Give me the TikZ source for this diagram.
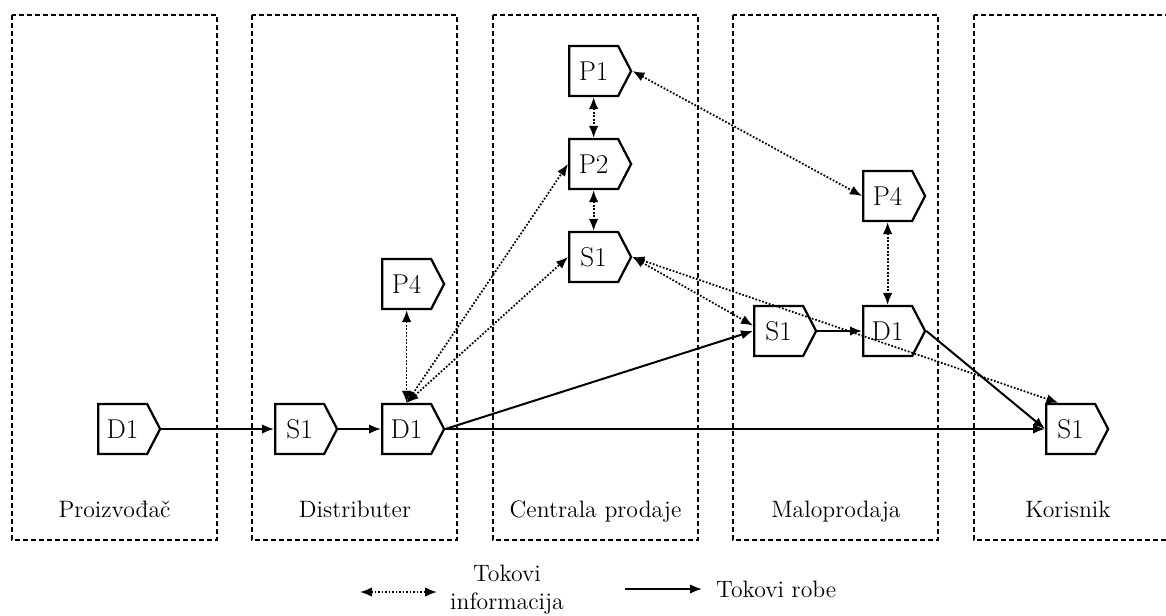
\documentclass[tikz,border=0pt]{standalone}
\usepackage{fontspec}
\usetikzlibrary{shapes.symbols,arrows.meta}

\newcommand*{\lanetop}{15}
\newcommand*{\lanebot}{540}
\newcommand*{\lanew}{205}

\begin{document}
\begin{tikzpicture}
[
	x=0.2mm, y=-0.2mm,
	font=\fontsize{13.5}{16}\selectfont,
	lane/.style={line width=0.45mm, dash pattern=on 1mm off 0.6mm},
	blk/.style={signal, signal to=east, signal pointer angle=125, draw, line width=0.45mm,
		minimum width=12.4mm, minimum height=10mm, inner sep=0pt, anchor=west,
		font=\fontsize{15.5}{18}\selectfont},
	goods/.style={line width=0.4mm, -{Latex[length=2.4mm,width=1.9mm]}},
	info/.style={line width=0.35mm, dash pattern=on 0.35mm off 0.35mm,
		{Latex[length=2.4mm,width=1.9mm]}-{Latex[length=2.4mm,width=1.9mm]}}
]

	\clip (0,0) rectangle (1166,615);

	% lanes
	\foreach \lx/\lbl/\cx [count=\i] in {12/Proizvođač/114.5, 252/Distributer/355,
		493/Centrala prodaje/595.5, 733/Maloprodaja/836, 974/Korisnik/1068}
	{
		\draw[lane] (\lx,\lanetop) rectangle ({\lx+\lanew},\lanebot);
		\node[anchor=base] (lane\i) at (\cx,517) {\lbl};
	}

	% proizvodac, distributer
	\node[blk] (pD1) at (97,429) {D1};
	\node[blk] (dS1) at (274,429) {S1};
	\node[blk] (dD1) at (381,429) {D1};
	\node[blk] (dP4) at (381,284) {P4};

	% centrala prodaje
	\node[blk] (cP1) at (568,71) {P1};
	\node[blk] (cP2) at (568,164) {P2};
	\node[blk] (cS1) at (568,257) {S1};

	% maloprodaja, korisnik
	\node[blk] (mP4) at (862,196) {P4};
	\node[blk] (mS1) at (753,331) {S1};
	\node[blk] (mD1) at (862,331) {D1};
	\node[blk] (kS1) at (1045,429) {S1};

	% goods
	\draw[goods] (pD1.east) -- (dS1.west);
	\draw[goods] (dS1.east) -- (dD1.west);
	\draw[goods] (dD1.east) -- (kS1.west);
	\draw[goods] (dD1.east) -- (mS1.west);
	\draw[goods] (mS1.east) -- (mD1.west);
	\draw[goods] (mD1.east) -- (kS1.west);

	% information
	\draw[info] (dP4.south) -- (dD1.north);
	\draw[info] (dD1.north) -- (cP2.west);
	\draw[info] (dD1.north) -- (cS1.west);
	\draw[info] (cP1.south) -- (cP2.north);
	\draw[info] (cP2.south) -- (cS1.north);
	\draw[info] (cP1.east) -- (mP4.west);
	\draw[info] (mP4.south) -- (mD1.north);
	\draw[info] (cS1.east) -- (mS1.168);
	\draw[info] (cS1.east) -- (kS1.115);

	% legend
	\coordinate (infoA) at (360,592);
	\coordinate (infoB) at (437,592);
	\draw[info] (infoA) -- (infoB);
	\node[align=center] (infoLbl) at (507,590) {Tokovi\\informacija};
	\coordinate (goodsA) at (625,589);
	\coordinate (goodsB) at (702,589);
	\draw[goods] (goodsA) -- (goodsB);
	\node[anchor=west] (goodsLbl) at (710,589) {Tokovi robe};

\end{tikzpicture}
\end{document}
